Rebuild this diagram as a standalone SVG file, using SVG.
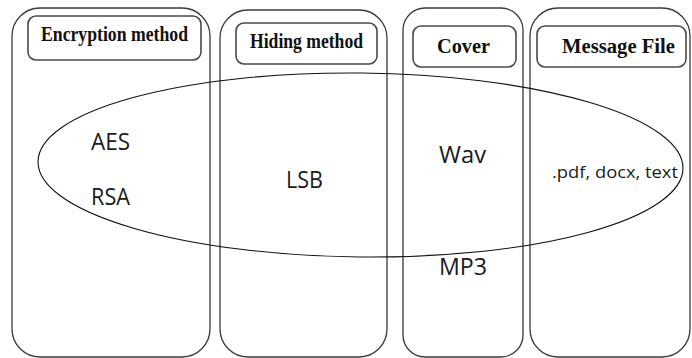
<svg xmlns="http://www.w3.org/2000/svg" width="692" height="358" viewBox="0 0 692 358">
  <style>
    .col { fill: none; stroke: #3a3a3a; stroke-width: 1.3; }
    .hdr { fill: #fff; stroke: #4a4a4a; stroke-width: 1.6; }
    .htxt { font-family: "Liberation Serif", serif; font-weight: bold; font-size: 20px; fill: #111; text-anchor: start; }
    .item { font-family: "Open Sans", "Liberation Sans", sans-serif; font-size: 23.5px; fill: #1a1a1a; }
    .small { font-family: "Open Sans", "Liberation Sans", sans-serif; font-size: 17px; fill: #1a1a1a; }
  </style>
  <rect width="692" height="358" fill="#fff"/>

  <g id="col-encryption">
    <rect class="col" x="12" y="8" width="198" height="349" rx="28"/>
    <rect class="hdr" x="28" y="16" width="173" height="44" rx="8"/>
    <text class="htxt" x="41" y="41" textLength="147" lengthAdjust="spacingAndGlyphs">Encryption method</text>
    <text class="item" x="91" y="150" textLength="39" lengthAdjust="spacingAndGlyphs">AES</text>
    <text class="item" x="91" y="205" textLength="39" lengthAdjust="spacingAndGlyphs">RSA</text>
  </g>

  <g id="col-hiding">
    <rect class="col" x="220" y="10" width="167" height="347" rx="28"/>
    <rect class="hdr" x="236" y="23" width="141" height="41" rx="8"/>
    <text class="htxt" x="250" y="48" textLength="113" lengthAdjust="spacingAndGlyphs">Hiding method</text>
    <text class="item" x="286" y="188" textLength="37" lengthAdjust="spacingAndGlyphs">LSB</text>
  </g>

  <g id="col-cover">
    <rect class="col" x="403" y="8" width="120" height="349" rx="22"/>
    <rect class="hdr" x="413" y="26" width="103" height="41" rx="8"/>
    <text class="htxt" x="437" y="53" textLength="53" lengthAdjust="spacingAndGlyphs">Cover</text>
    <text class="item" x="439" y="163" textLength="47" lengthAdjust="spacingAndGlyphs">Wav</text>
    <text class="item" x="439" y="275" textLength="48" lengthAdjust="spacingAndGlyphs">MP3</text>
  </g>

  <g id="col-message">
    <rect class="col" x="530" y="8" width="160" height="349" rx="28"/>
    <rect class="hdr" x="537" y="26" width="149" height="41" rx="8"/>
    <text class="htxt" x="562" y="53" textLength="113" lengthAdjust="spacingAndGlyphs">Message File</text>
    <text class="small" x="552" y="178" textLength="126" lengthAdjust="spacingAndGlyphs">.pdf, docx, text</text>
  </g>

  <g id="connectors">
    <ellipse cx="360.5" cy="165" rx="322.5" ry="92" transform="rotate(0.6 360.5 165)" fill="none" stroke="#111" stroke-width="1.1"/>
  </g>
</svg>
